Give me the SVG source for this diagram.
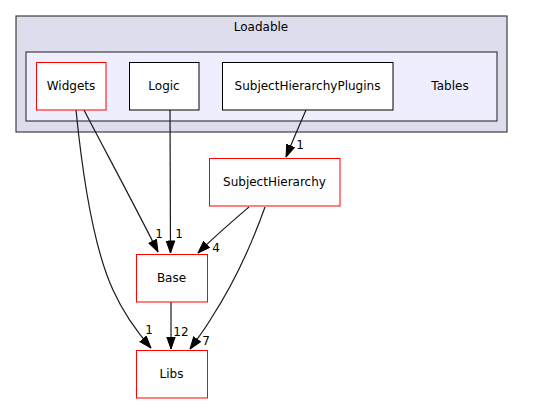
<svg xmlns="http://www.w3.org/2000/svg" width="539" height="404" viewBox="0 0 539 404">
<style>
text{font-family:"DejaVu Sans","Liberation Sans",sans-serif;font-size:12px;fill:#000}
.c1{fill:#ddddee;stroke:#404040;stroke-width:1.2}
.c2{fill:#eeeeff;stroke:#404040;stroke-width:1.2}
.red{fill:#fff;stroke:#ff0000;stroke-width:1}
.blk{fill:#fff;stroke:#000;stroke-width:1}
.e{fill:none;stroke:#1a1a1a;stroke-width:1.2}
.lbl{font-size:12px}
</style>
<defs>
<marker id="ah" markerWidth="13" markerHeight="10" refX="12.5" refY="4.7" orient="auto" markerUnits="userSpaceOnUse">
<path d="M0.5,0.5 L12.5,4.7 L0.5,8.9 z" fill="#000" stroke="#000"/>
</marker>
</defs>
<rect x="0" y="0" width="539" height="404" fill="#fff"/>
<g id="cluster_Loadable">
<rect class="c1" x="16" y="16" width="491" height="116"/>
<text x="261" y="31" text-anchor="middle">Loadable</text>
</g>
<g id="cluster_Tables">
<rect class="c2" x="26" y="52" width="471" height="69"/>
<text x="450" y="90" text-anchor="middle">Tables</text>
</g>
<g id="connectors">
<path class="e" d="M76,110 C80,150 90,240 113,290 C123,312 137,332 151,348" marker-end="url(#ah)"/>
<text class="lbl" x="149" y="334" text-anchor="middle">1</text>
<path class="e" d="M84,110 C102,145 132,200 158,252" marker-end="url(#ah)"/>
<text class="lbl" x="159" y="238" text-anchor="middle">1</text>
<path class="e" d="M170,110 L170.5,253" marker-end="url(#ah)"/>
<text class="lbl" x="179" y="238" text-anchor="middle">1</text>
<path class="e" d="M306,110 C300,124 293,140 286,157" marker-end="url(#ah)"/>
<text class="lbl" x="300" y="149" text-anchor="middle">1</text>
<path class="e" d="M249,207 C235,219 215,236 198,253" marker-end="url(#ah)"/>
<text class="lbl" x="216" y="252" text-anchor="middle">4</text>
<path class="e" d="M265,207 C255,235 236,280 212,317 C205,329 198,338 190,349" marker-end="url(#ah)"/>
<text class="lbl" x="206" y="345" text-anchor="middle">7</text>
<path class="e" d="M171,302 L171,349" marker-end="url(#ah)"/>
<text class="lbl" x="181" y="336" text-anchor="middle">12</text>
</g>
<g id="node_Widgets">
<rect class="red" x="36.5" y="62.5" width="69.5" height="47.5"/>
<text x="71" y="90" text-anchor="middle">Widgets</text>
</g>
<g id="node_Logic">
<rect class="blk" x="129.5" y="62.5" width="69.5" height="47.5"/>
<text x="164" y="90" text-anchor="middle">Logic</text>
</g>
<g id="node_SubjectHierarchyPlugins">
<rect class="blk" x="222.5" y="62.5" width="170.5" height="47.5"/>
<text x="307.5" y="90" text-anchor="middle">SubjectHierarchyPlugins</text>
</g>
<g id="node_SubjectHierarchy">
<rect class="red" x="209.5" y="158.5" width="130.5" height="47.5"/>
<text x="274.5" y="186" text-anchor="middle">SubjectHierarchy</text>
</g>
<g id="node_Base">
<rect class="red" x="136.5" y="254.5" width="71" height="47.5"/>
<text x="171.5" y="282" text-anchor="middle">Base</text>
</g>
<g id="node_Libs">
<rect class="red" x="136.5" y="350.5" width="71" height="47.5"/>
<text x="171.5" y="378" text-anchor="middle">Libs</text>
</g>
</svg>
